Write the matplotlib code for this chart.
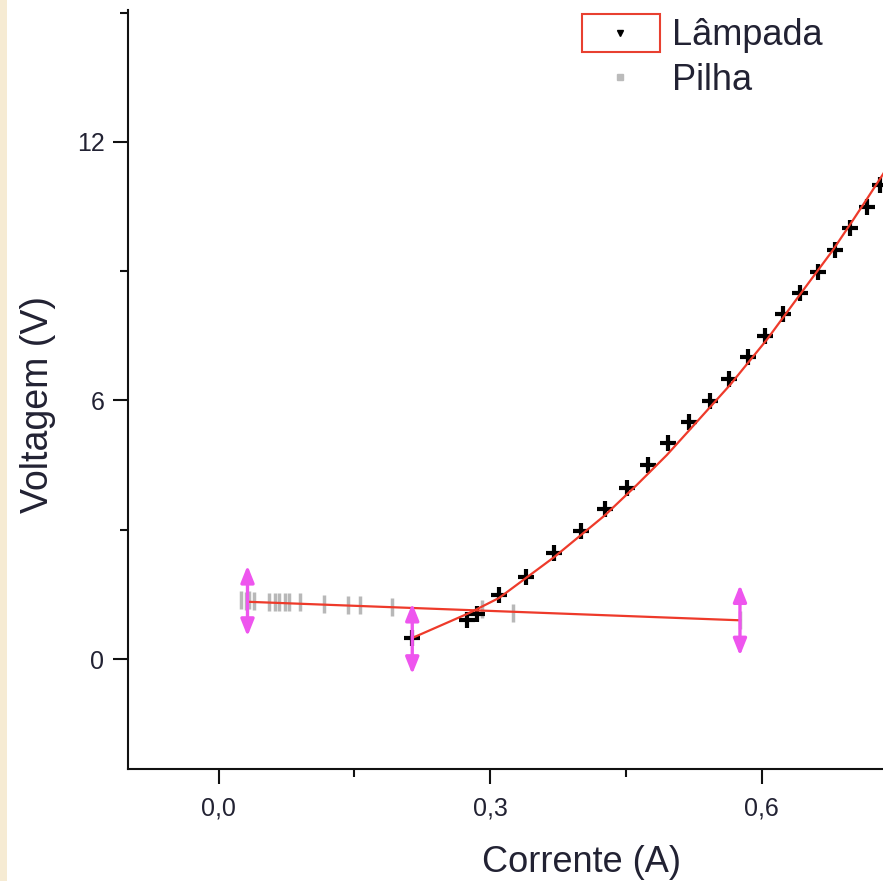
import matplotlib
matplotlib.use("Agg")
import matplotlib.pyplot as plt
from matplotlib.patches import Rectangle
from matplotlib.lines import Line2D
from matplotlib.ticker import FixedLocator

plt.rcParams['font.family'] = ['Liberation Sans', 'DejaVu Sans']

# ---- data ----
lampada_i = [0.214, 0.275, 0.286, 0.310, 0.340, 0.371, 0.400, 0.427, 0.451, 0.474,
             0.497, 0.520, 0.543, 0.564, 0.585, 0.604, 0.623, 0.642, 0.662, 0.681,
             0.698, 0.716, 0.731]
lampada_v = [0.49, 0.90, 1.04, 1.48, 1.90, 2.46, 2.97, 3.48, 3.97, 4.50,
             5.01, 5.50, 5.99, 6.50, 7.01, 7.49, 8.00, 8.49, 8.98, 9.49,
             10.00, 10.49, 11.00]
lampada_fit_i = [0.214, 0.277, 0.310, 0.371, 0.427, 0.462, 0.495, 0.520, 0.565,
                 0.606, 0.642, 0.678, 0.701, 0.717, 0.734, 0.745]
lampada_fit_v = [0.49, 1.07, 1.42, 2.37, 3.34, 4.04, 4.73, 5.31, 6.36,
                 7.42, 8.45, 9.47, 10.19, 10.70, 11.25, 11.65]

pilha_i = [0.025, 0.030, 0.034, 0.039, 0.056, 0.062, 0.067, 0.073, 0.078, 0.090,
           0.117, 0.143, 0.156, 0.192, 0.291, 0.325, 0.576]
pilha_v = [1.37, 1.35, 1.36, 1.34, 1.32, 1.32, 1.32, 1.32, 1.32, 1.32,
           1.28, 1.25, 1.25, 1.21, 1.16, 1.07, 0.90]
pilha_fit_i = [0.032, 0.576]
pilha_fit_v = [1.33, 0.90]

range_x = [0.032, 0.214, 0.576]
range_y = [1.35, 0.47, 0.90]
range_half = 0.82

xticks = [0.0, 0.3, 0.6]
xticklabels = ['0,0', '0,3', '0,6']
xminor = [0.15, 0.45]
yticks = [0, 6, 12]
yticklabels = ['0', '6', '12']
yminor = [3, 9, 15]

W, H = 883, 881
fig = plt.figure(figsize=(W / 100, H / 100), dpi=100)
fig.patch.set_facecolor('white')
# beige strip on the left edge
fig.patches.append(Rectangle((0, 0), 7 / W, 1, transform=fig.transFigure,
                             facecolor='#f6ebd3', edgecolor='none', zorder=0))

ax = fig.add_axes([128 / W, 1 - 769 / H, (W - 128) / W, (769 - 10) / H])
ax.set_xlim(-0.1, 0.734)
ax.set_ylim(-2.55, 15.06)

for s in ['top', 'right']:
    ax.spines[s].set_visible(False)
for s in ['left', 'bottom']:
    ax.spines[s].set_linewidth(1.5)
    ax.spines[s].set_color('#111111')

ax.set_xticks(xticks)
ax.set_xticklabels(xticklabels)
ax.xaxis.set_minor_locator(FixedLocator(xminor))
ax.set_yticks(yticks)
ax.set_yticklabels(yticklabels)
ax.yaxis.set_minor_locator(FixedLocator(yminor))
ax.tick_params(which='major', direction='out', length=11, width=1.5, color='#111111',
               labelsize=18, labelcolor='#222233')
ax.tick_params(axis='x', which='major', pad=9)
ax.tick_params(axis='y', which='major', pad=6)
ax.tick_params(which='minor', direction='out', length=6, width=1.5, color='#111111')

# data
ax.plot(pilha_i, pilha_v, linestyle='none', marker='|', ms=13, mew=2.5,
        color='#b8b8b8', zorder=2)
ax.plot(pilha_fit_i, pilha_fit_v, color='#ee3a2a', lw=1.6, zorder=3)
ax.plot(lampada_i, lampada_v, linestyle='none', marker='+', ms=12, mew=3,
        color='black', zorder=2)
ax.plot(lampada_fit_i, lampada_fit_v, color='#ee3a2a', lw=1.6, zorder=3)

for x, y in zip(range_x, range_y):
    ax.annotate('', xy=(x, y + range_half), xytext=(x, y - range_half),
                arrowprops=dict(arrowstyle='<|-|>,head_length=1.0,head_width=0.4',
                                color='#ee55ee', lw=2.4, shrinkA=0, shrinkB=0),
                zorder=4)

ax.set_xlabel('Corrente (A)', fontsize=26, color='#222233')
ax.xaxis.set_label_coords(0.6, -0.1)
ax.set_ylabel('Voltagem (V)', fontsize=27, color='#222233')
ax.yaxis.set_label_coords(-0.096, 0.48)

# legend (drawn by hand, Origin style)
fig.patches.append(Rectangle((582 / W, 1 - 52 / H), 78 / W, 38 / H,
                             transform=fig.transFigure, facecolor='none',
                             edgecolor='#e84030', lw=1.5))
fig.lines.append(Line2D([620 / W], [1 - 33 / H], transform=fig.transFigure,
                        marker='v', ms=5, color='black', linestyle='none'))
fig.lines.append(Line2D([620 / W], [1 - 77 / H], transform=fig.transFigure,
                        marker='s', ms=5, color='#bbbbbb', linestyle='none'))
fig.text(672 / W, 1 - 45 / H, 'Lâmpada', fontsize=26, color='#222233',
         ha='left', va='baseline')
fig.text(672 / W, 1 - 90 / H, 'Pilha', fontsize=26, color='#222233',
         ha='left', va='baseline')

fig.savefig('out.png', dpi=100)
